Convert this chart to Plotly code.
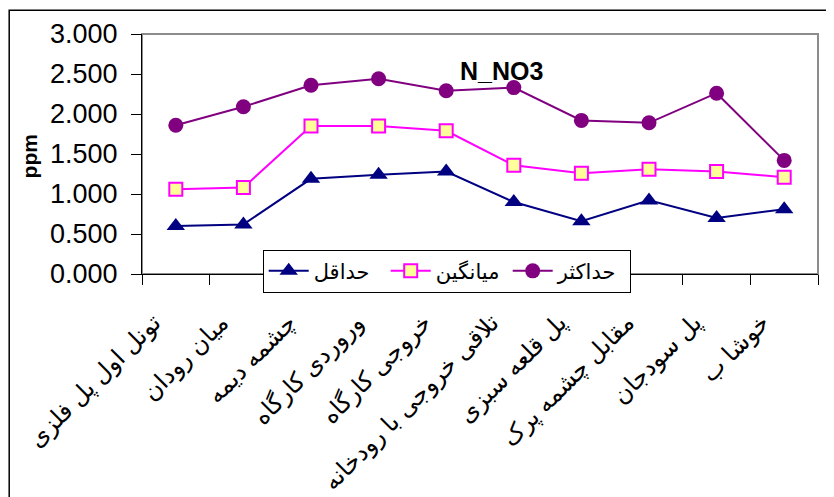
import plotly.graph_objects as go

categories = ["تونل اول پل فلزی", "میان رودان", "چشمه دیمه", "وروردی کارگاه", "خروجی کارگاه",
              "تلاقی خروجی با رودخانه", "پل قلعه سبزی", "مقابل چشمه پرک", "پل سودجان", "خوشا ب"]
min_vals = [0.60, 0.62, 1.19, 1.24, 1.28, 0.90, 0.66, 0.92, 0.70, 0.81]
mean_vals = [1.06, 1.08, 1.85, 1.85, 1.79, 1.36, 1.26, 1.31, 1.28, 1.21]
max_vals = [1.86, 2.09, 2.36, 2.44, 2.29, 2.33, 1.92, 1.89, 2.26, 1.42]
series_names = ["حداقل", "میانگین", "حداکثر"]
y_ticks = [0, 0.5, 1.0, 1.5, 2.0, 2.5, 3.0]

OFF = 8  # page body margin
W, H = 834 - OFF, 497 - OFF
L, R, T, B = 142.3 - OFF, 818.3 - OFF, 34.3 - OFF, 274.3 - OFF
pw, ph = R - L, B - T
def px(x): return (x - OFF - L) / pw
def py(y): return (B - (y - OFF)) / ph

font_main = "Liberation Sans, Arial, DejaVu Sans, sans-serif"

fig = go.Figure()
fig.add_trace(go.Scatter(x=categories, y=min_vals, name=series_names[0], mode="lines+markers",
                         line=dict(color="#000080", width=2),
                         marker=dict(symbol="triangle-up", size=16, color="#000080")))
fig.add_trace(go.Scatter(x=categories, y=mean_vals, name=series_names[1], mode="lines+markers",
                         line=dict(color="#FF00FF", width=2),
                         marker=dict(symbol="square", size=13, color="#FFFF99",
                                     line=dict(color="#FF00FF", width=2))))
fig.add_trace(go.Scatter(x=categories, y=max_vals, name=series_names[2], mode="lines+markers",
                         line=dict(color="#800080", width=2),
                         marker=dict(symbol="circle", size=15, color="#800080")))

fig.update_layout(
    width=W, height=H,
    margin=dict(l=L, r=W - R, t=T, b=H - B, autoexpand=False),
    paper_bgcolor="white", plot_bgcolor="white",
    font=dict(family=font_main, color="black"),
    showlegend=True,
    legend=dict(orientation="h", x=px(263), y=py(250), xanchor="left", yanchor="top",
                bordercolor="black", borderwidth=1, bgcolor="white",
                font=dict(size=21, family=font_main), itemwidth=40,
                entrywidth=67, entrywidthmode="pixels"),
    xaxis=dict(type="category", tickson="boundaries", ticks="outside", ticklen=10,
               tickcolor="black", showline=True, linecolor="black", linewidth=1,
               showgrid=False, tickangle=-45, tickfont=dict(size=24, family=font_main),
               ticklabelshift=-22, ticklabelstandoff=24,
               range=[-0.5, len(categories) - 0.5]),
    yaxis=dict(range=[0, 3], tickvals=y_ticks, tickformat=".3f", ticks="outside", ticklen=10,
               tickcolor="black", showline=True, linecolor="black", linewidth=1,
               showgrid=False, zeroline=False, tickfont=dict(size=27, family=font_main),
               ticklabelstandoff=8),
    shapes=[
        dict(type="rect", xref="paper", yref="paper", x0=0, x1=1, y0=0, y1=1,
             line=dict(color="#8c8c8c", width=2), layer="below"),
        dict(type="rect", xref="paper", yref="paper", x0=px(9.5), x1=px(845), y0=py(10.5), y1=py(510),
             line=dict(color="black", width=1.5)),
    ],
    annotations=[
        dict(text="<b>N_NO3</b>", xref="paper", yref="paper", x=px(502), y=py(71),
             xanchor="center", yanchor="middle",
             showarrow=False, font=dict(size=25, family=font_main)),
        dict(text="<b>ppm</b>", xref="paper", yref="paper", x=px(30), y=py(157),
             xanchor="center", yanchor="middle",
             showarrow=False, textangle=-90, font=dict(size=21, family=font_main)),
    ],
)

fig.write_html("out.html")
